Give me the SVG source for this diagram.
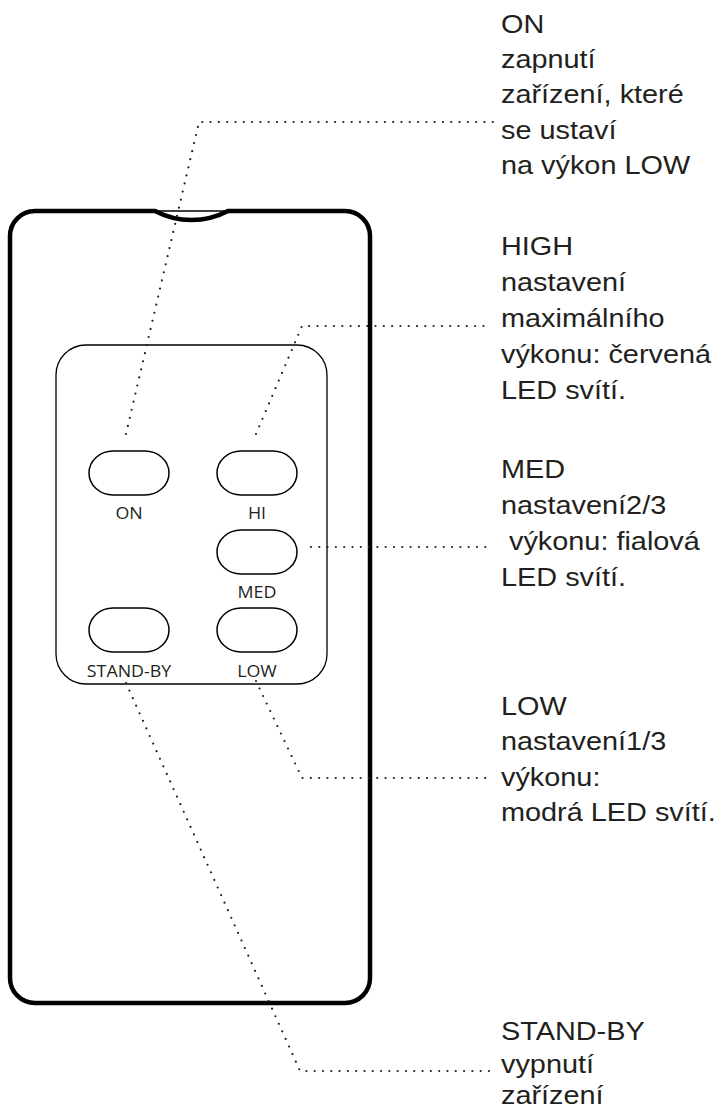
<svg xmlns="http://www.w3.org/2000/svg" width="722" height="1110" viewBox="0 0 722 1110">
<style>
.body{fill:none;stroke:#000;stroke-width:4.5;stroke-linejoin:round}
.thin{fill:none;stroke:#000;stroke-width:1.3}
.btn{fill:#fff;stroke:#000;stroke-width:1.5}
.lbl{font-family:"Open Sans","Noto Sans",sans-serif;font-size:15.5px;fill:#231f20;text-anchor:middle}
.desc{font-family:"Liberation Sans",Arial,sans-serif;font-size:26px;fill:#231f20}
.dot{fill:none;stroke:#231f20;stroke-width:2.2;stroke-linecap:round;stroke-dasharray:0 8.3}
</style>
<rect width="722" height="1110" fill="#fff"/>
<g id="remote">
<path class="body" d="M35,211 H155 A78.5,78.5 0 0 0 228,211 H345 A25,25 0 0 1 370,236 V978 A25,25 0 0 1 345,1003 H35 A25,25 0 0 1 10,978 V236 A25,25 0 0 1 35,211 Z"/>
<line class="thin" x1="155" y1="211" x2="228" y2="211"/>
<rect class="thin" x="56" y="345" width="271" height="339" rx="30" ry="30"/>
</g>
<g id="btn-on"><rect class="btn" x="89" y="451" width="80" height="44" rx="24" ry="22"/><text class="lbl" transform="translate(129,519) scale(1.15,1)">ON</text></g>
<g id="btn-hi"><rect class="btn" x="217" y="451" width="80" height="44" rx="24" ry="22"/><text class="lbl" transform="translate(257,519) scale(1.15,1)">HI</text></g>
<g id="btn-med"><rect class="btn" x="217" y="530" width="80" height="44" rx="24" ry="22"/><text class="lbl" transform="translate(257,598) scale(1.15,1)">MED</text></g>
<g id="btn-standby"><rect class="btn" x="89" y="608" width="80" height="44" rx="24" ry="22"/><text class="lbl" transform="translate(129,677) scale(1.15,1)">STAND-BY</text></g>
<g id="btn-low"><rect class="btn" x="217" y="608" width="80" height="44" rx="24" ry="22"/><text class="lbl" transform="translate(257,677) scale(1.15,1)">LOW</text></g>
<g id="connectors">
<polyline class="dot" points="126,434 199,122 494,122"/>
<polyline class="dot" points="256,434 302,326 488,326"/>
<polyline class="dot" points="311,547 490,547"/>
<polyline class="dot" points="256,681 302,778 488,778"/>
<polyline class="dot" points="126,683 300,1071 495,1071"/>
</g>
<g id="desc-on" class="desc" transform="translate(501,0) scale(1.11,1)">
<text x="0" y="33">ON</text>
<text x="0" y="68">zapnutí</text>
<text x="0" y="103.5">zařízení, které</text>
<text x="0" y="139">se ustaví</text>
<text x="0" y="174.5">na výkon LOW</text>
</g>
<g id="desc-high" class="desc" transform="translate(501,0) scale(1.11,1)">
<text x="0" y="255">HIGH</text>
<text x="0" y="291">nastavení</text>
<text x="0" y="327">maximálního</text>
<text x="0" y="363">výkonu: červená</text>
<text x="0" y="399">LED svítí.</text>
</g>
<g id="desc-med" class="desc" transform="translate(501,0) scale(1.11,1)">
<text x="0" y="478">MED</text>
<text x="0" y="514">nastavení2/3</text>
<text x="0" y="550" xml:space="preserve"> výkonu: fialová</text>
<text x="0" y="586">LED svítí.</text>
</g>
<g id="desc-low" class="desc" transform="translate(501,0) scale(1.11,1)">
<text x="0" y="715">LOW</text>
<text x="0" y="750">nastavení1/3</text>
<text x="0" y="786">výkonu:</text>
<text x="0" y="821">modrá LED svítí.</text>
</g>
<g id="desc-standby" class="desc" transform="translate(501,0) scale(1.11,1)">
<text x="0" y="1040">STAND-BY</text>
<text x="0" y="1073">vypnutí</text>
<text x="0" y="1104">zařízení</text>
</g>
</svg>
